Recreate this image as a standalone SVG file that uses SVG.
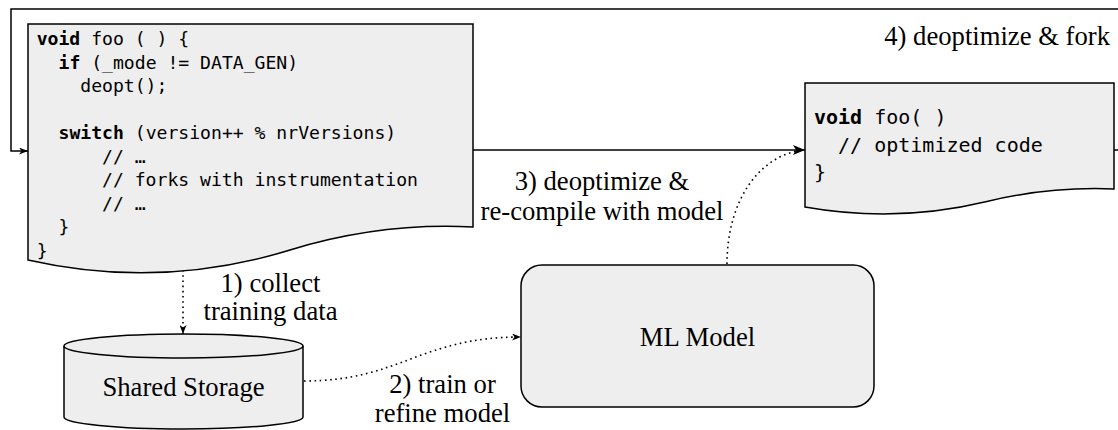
<svg xmlns="http://www.w3.org/2000/svg" width="1118" height="430" viewBox="0 0 1118 430">
  <style>
    .shape { fill: #eeeeee; stroke: #000000; stroke-width: 1.5; }
    .code { font-family: "DejaVu Sans Mono", "Liberation Mono", monospace; fill: #000000; white-space: pre; }
    .code-l { font-size: 18.1px; }
    .code-r { font-size: 20px; }
    .kw { font-weight: bold; }
    .label { font-family: "Liberation Serif", "Times New Roman", serif; font-size: 26.67px; fill: #000000; text-anchor: middle; }
    .solid { fill: none; stroke: #000000; stroke-width: 1.5; }
    .dotted { fill: none; stroke: #000000; stroke-width: 1.6; stroke-dasharray: 1.6 3.6; }
  </style>
  <defs>
    <marker id="arrow" viewBox="0 0 12 10" refX="12" refY="5" markerWidth="12" markerHeight="10" markerUnits="userSpaceOnUse" orient="auto">
      <path d="M0,0 L12,5 L0,10 L3,5 Z" fill="#000000"/>
    </marker>
    <marker id="arrow-small" viewBox="0 0 9 7" refX="9" refY="3.5" markerWidth="9" markerHeight="7" markerUnits="userSpaceOnUse" orient="auto">
      <path d="M0,0 L9,3.5 L0,7 L2.5,3.5 Z" fill="#000000"/>
    </marker>
  </defs>

  <!-- connectors -->
  <g id="connectors">
    <!-- 4) deoptimize & fork: feedback loop back into the generic version -->
    <path class="solid" d="M1114,150 H1130 V9 H11 V151 H28" marker-end="url(#arrow-small)"/>
    <!-- 3) deoptimize & re-compile -->
    <path class="solid" d="M473,150 H805" marker-end="url(#arrow)"/>
    <path class="dotted" d="M727,264 C727,200 760,155 803,150"/>
    <!-- 1) collect training data -->
    <path class="dotted" d="M183,192 V334" marker-end="url(#arrow-small)"/>
    <!-- 2) train or refine model -->
    <path class="dotted" d="M304,381 C400,381 420,337 521,337" marker-end="url(#arrow-small)"/>
  </g>

  <!-- generic, instrumented version of foo -->
  <g id="generic-code">
    <path class="shape" d="M28,24 H473 V227 Q380,222.3 290,250 Q160,290 28,260 Z"/>
    <text class="code code-l" xml:space="preserve" x="36.7" y="45"><tspan class="kw">void</tspan> foo ( ) {</text>
    <text class="code code-l" xml:space="preserve" x="36.7" y="68.5">  <tspan class="kw">if</tspan> (_mode != DATA_GEN)</text>
    <text class="code code-l" xml:space="preserve" x="36.7" y="92">    deopt();</text>
    <text class="code code-l" xml:space="preserve" x="36.7" y="139">  <tspan class="kw">switch</tspan> (version++ % nrVersions)</text>
    <text class="code code-l" xml:space="preserve" x="36.7" y="162.5">      // …</text>
    <text class="code code-l" xml:space="preserve" x="36.7" y="186">      // forks with instrumentation</text>
    <text class="code code-l" xml:space="preserve" x="36.7" y="209.5">      // …</text>
    <text class="code code-l" xml:space="preserve" x="36.7" y="233">  }</text>
    <text class="code code-l" xml:space="preserve" x="36.7" y="256.5">}</text>
  </g>

  <!-- optimized version of foo -->
  <g id="optimized-code">
    <path class="shape" d="M805,83 H1114 V189 Q1049.3,186.4 986.9,201.5 Q896.6,223.3 805,207 Z"/>
    <text class="code code-r" xml:space="preserve" x="814" y="124"><tspan class="kw">void</tspan> foo( )</text>
    <text class="code code-r" xml:space="preserve" x="814" y="151.5">  // optimized code</text>
    <text class="code code-r" xml:space="preserve" x="814" y="179">}</text>
  </g>

  <!-- shared storage -->
  <g id="shared-storage">
    <path class="shape" d="M64,346 A119.5,12 0 0 1 303,346 V417 A119.5,12 0 0 1 64,417 Z"/>
    <path class="solid" d="M64,346 A119.5,12 0 0 0 303,346"/>
    <text class="label" x="183.5" y="396">Shared Storage</text>
  </g>

  <!-- ML model -->
  <g id="ml-model">
    <rect class="shape" x="521" y="265" width="353" height="142" rx="21" ry="21"/>
    <text class="label" x="697.5" y="346">ML Model</text>
  </g>

  <!-- step labels -->
  <g id="labels">
    <text class="label" x="1110" y="44.5" style="text-anchor:end">4) deoptimize &amp; fork</text>
    <text class="label" x="602" y="190">3) deoptimize &amp;</text>
    <text class="label" x="602" y="220">re-compile with model</text>
    <text class="label" x="270.5" y="292">1) collect</text>
    <text class="label" x="270.5" y="320">training data</text>
    <text class="label" x="442.5" y="393">2) train or</text>
    <text class="label" x="442.5" y="422">refine model</text>
  </g>
</svg>
